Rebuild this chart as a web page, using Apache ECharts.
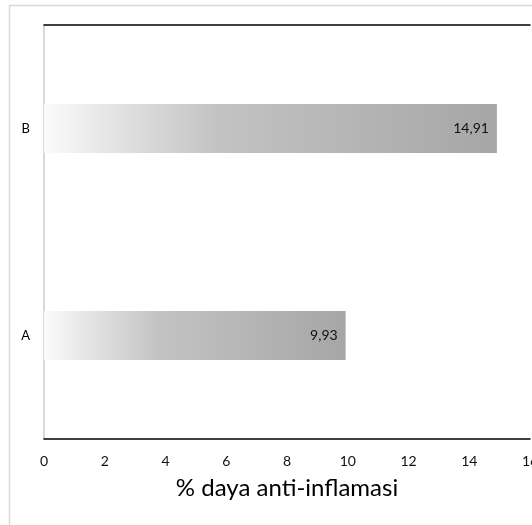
<!DOCTYPE html>
<html><head><meta charset="utf-8">
<script src="https://cdn.jsdelivr.net/npm/echarts@6/dist/echarts.min.js"></script>
<style>html,body{margin:0;padding:0;background:#fff}#c{width:532px;height:525px}</style>
</head><body><div id="c"></div>
<script>
const categories = ['A', 'B'];
const values = [9.93, 14.91];
const xTicks = [0, 2, 4, 6, 8, 10, 12, 14, 16];
const axisTitle = '% daya anti-inflamasi';

const chart = echarts.init(document.getElementById('c'));
const font = 'Lato, Open Sans, sans-serif';
chart.setOption({
  animation: false,
  grid: { left: 44, right: 2, top: 25, bottom: 86, outerBoundsMode: 'none', containLabel: false },
  graphic: [{
    type: 'rect', shape: { x: 9.5, y: 5.5, width: 600, height: 600 },
    style: { fill: 'none', stroke: '#d9d9d9', lineWidth: 1.5 }, z: -1
  }],
  xAxis: [{
    type: 'value', min: xTicks[0], max: xTicks[xTicks.length - 1], interval: 2,
    splitLine: { show: false },
    axisLine: { show: true, lineStyle: { color: '#000', width: 1.5 } },
    axisTick: { show: false },
    axisLabel: { color: '#111', fontSize: 14, fontFamily: font, margin: 15 },
    name: axisTitle, nameLocation: 'middle', nameGap: 37,
    nameTextStyle: { color: '#000', fontSize: 24, fontFamily: font }
  }, {
    type: 'value', position: 'top', min: xTicks[0], max: xTicks[xTicks.length - 1],
    splitLine: { show: false }, axisTick: { show: false }, axisLabel: { show: false },
    axisLine: { show: true, lineStyle: { color: '#000', width: 1.5 } }
  }],
  yAxis: {
    type: 'category', data: categories,
    axisLine: { show: true, lineStyle: { color: '#d9d9d9', width: 2 } },
    axisTick: { show: false },
    axisLabel: { color: '#000', fontSize: 13, fontFamily: font, margin: 14 }
  },
  series: [{
    type: 'bar', data: values, barWidth: 49,
    itemStyle: {
      color: {
        type: 'linear', x: 0, y: 0, x2: 1, y2: 0,
        colorStops: [
          { offset: 0, color: '#fbfbfb' },
          { offset: 0.15, color: '#e4e4e4' },
          { offset: 0.38, color: '#c3c3c3' },
          { offset: 1, color: '#a6a6a6' }
        ]
      }
    },
    label: {
      show: true, position: 'insideRight', distance: 8,
      color: '#111', fontSize: 14, fontFamily: font,
      formatter: p => String(p.value).replace('.', ',')
    }
  }]
});
</script></body></html>
